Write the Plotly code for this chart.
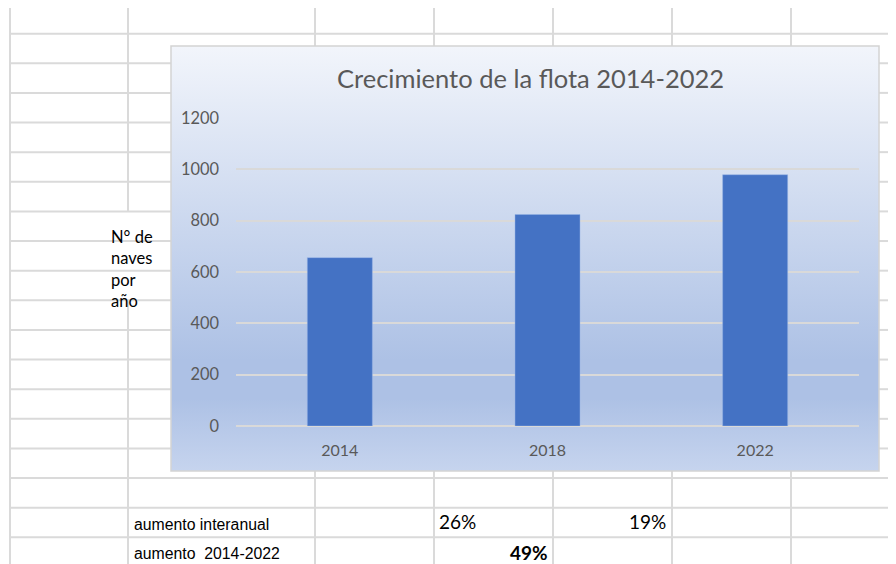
import base64
import plotly.graph_objects as go

# ---------------- data ----------------
years = ["2014", "2018", "2022"]
naves = [656, 824, 979]
y_ticks = [0, 200, 400, 600, 800, 1000, 1200]
title_text = "Crecimiento de la flota 2014-2022"
y_label_lines = ["N° de", "naves", "por", "año"]
row_labels = ["aumento interanual", "aumento  2014-2022"]
interanual = [round((naves[i + 1] / naves[i] - 1) * 100) for i in range(len(naves) - 1)]
total_incr = round((naves[-1] / naves[0] - 1) * 100)

# ---------------- geometry (page pixels) ----------------
OFF = 8                      # page body margin offset
W, H = 896 - OFF, 564 - OFF  # figure size
PL, PR, PT, PB = 236, 859, 118, 426   # plot area (page coords)
CL, CR, CT, CB = 171, 879, 46, 471    # chart box (page coords)


def px(x):
    return (x - PL) / (PR - PL)


def py(y):
    return (PB - y) / (PB - PT)


GRID = "#dadada"
shapes = []


def hline(y, x0, x1):
    shapes.append(dict(type="line", xref="paper", yref="paper", x0=px(x0), x1=px(x1),
                       y0=py(y), y1=py(y), line=dict(color=GRID, width=2), layer="below"))


def vline(x, y0, y1):
    shapes.append(dict(type="line", xref="paper", yref="paper", x0=px(x), x1=px(x),
                       y0=py(y0), y1=py(y1), line=dict(color=GRID, width=2), layer="below"))


cols = [10, 128, 315, 434, 553, 672, 791]
rows = [4 + 29.63 * i for i in range(19)]
XMAX, YMAX = 896, 564

for y in rows:
    if CT < y < CB:
        hline(y, 10, CL)
        hline(y, CR, XMAX)
    else:
        hline(y, 10, XMAX)
for x in cols:
    if CL < x < CR:
        vline(x, 4, CT)
        vline(x, CB, YMAX)
    elif x == 128:
        vline(x, 4, 212)
        vline(x, 301, YMAX)
    else:
        vline(x, 4, YMAX)

# chart border
shapes.append(dict(type="rect", xref="paper", yref="paper", x0=px(CL), x1=px(CR),
                   y0=py(CT), y1=py(CB), line=dict(color="#d3d3d3", width=1.5),
                   fillcolor="rgba(0,0,0,0)", layer="below"))

# gradient background of chart area
gw, gh = CR - CL, CB - CT
svg = (
    f'<svg xmlns="http://www.w3.org/2000/svg" width="{gw}" height="{gh}" '
    f'viewBox="0 0 {gw} {gh}" preserveAspectRatio="none">'
    '<defs><linearGradient id="g" x1="0" y1="0" x2="0" y2="1">'
    '<stop offset="0" stop-color="#f2f5fb"/>'
    '<stop offset="0.74" stop-color="#adc1e5"/>'
    '<stop offset="0.83" stop-color="#adc1e5"/>'
    '<stop offset="1" stop-color="#c6d4ee"/>'
    '</linearGradient></defs>'
    f'<rect x="0" y="0" width="{gw}" height="{gh}" fill="url(#g)"/></svg>'
)
src = "data:image/svg+xml;base64," + base64.b64encode(svg.encode()).decode()
images = [dict(source=src, xref="paper", yref="paper", x=px(CL), y=py(CT),
               sizex=(CR - CL) / (PR - PL), sizey=(CB - CT) / (PB - PT),
               xanchor="left", yanchor="top", sizing="stretch", layer="below")]

fig = go.Figure()
fig.add_trace(go.Bar(x=years, y=naves, marker=dict(color="#4472C4",
                     line=dict(color="rgba(150,180,230,0.6)", width=0.8)),
                     hoverinfo="x+y"))

CHART_FONT = "Lato, 'Open Sans', sans-serif"
SHEET_FONT = "'Liberation Sans', Arial, sans-serif"
annotations = [
    dict(text=title_text, x=px(530), y=py(78), xref="paper", yref="paper",
         xanchor="center", yanchor="middle", showarrow=False,
         font=dict(family=CHART_FONT, size=25.5, color="#595959")),
    dict(text="<br>".join(y_label_lines), x=px(109), y=py(225), xref="paper", yref="paper",
         xanchor="left", yanchor="top", align="left", showarrow=False,
         font=dict(family=CHART_FONT, size=16.5, color="#000000")),
    dict(text=row_labels[0], x=px(132), y=py(524), xref="paper", yref="paper",
         xanchor="left", yanchor="middle", showarrow=False,
         font=dict(family=SHEET_FONT, size=15.8, color="#000000")),
    dict(text=row_labels[1], x=px(132), y=py(553), xref="paper", yref="paper",
         xanchor="left", yanchor="middle", showarrow=False,
         font=dict(family=SHEET_FONT, size=15.8, color="#000000")),
    dict(text=f"{interanual[0]}%", x=px(437), y=py(521), xref="paper", yref="paper",
         xanchor="left", yanchor="middle", showarrow=False,
         font=dict(family=CHART_FONT, size=19, color="#000000")),
    dict(text=f"{interanual[1]}%", x=px(668), y=py(521), xref="paper", yref="paper",
         xanchor="right", yanchor="middle", showarrow=False,
         font=dict(family=CHART_FONT, size=19, color="#000000")),
    dict(text=f"<b>{total_incr}%</b>", x=px(550), y=py(552), xref="paper", yref="paper",
         xanchor="right", yanchor="middle", showarrow=False,
         font=dict(family=CHART_FONT, size=19, color="#000000")),
]

fig.update_layout(
    width=W, height=H,
    margin=dict(l=PL - OFF, r=896 - PR, t=PT - OFF, b=564 - PB, pad=0),
    paper_bgcolor="#ffffff",
    plot_bgcolor="rgba(0,0,0,0)",
    bargap=0.687,
    showlegend=False,
    shapes=shapes,
    images=images,
    annotations=annotations,
    font=dict(family=CHART_FONT, color="#595959"),
    xaxis=dict(showgrid=False, showline=False, zeroline=False, ticks="",
               tickfont=dict(family=CHART_FONT, size=16, color="#595959"),
               ticklabelstandoff=13, fixedrange=True),
    yaxis=dict(range=[0, 1200], tickvals=y_ticks, showgrid=True, gridcolor="#d9d9d9",
               gridwidth=1.5, zeroline=True, zerolinecolor="#d9d9d9", zerolinewidth=1.5,
               showline=False, ticks="",
               tickfont=dict(family=CHART_FONT, size=16.4, color="#595959"),
               ticklabelstandoff=16, fixedrange=True),
)

fig.write_html("out.html")
